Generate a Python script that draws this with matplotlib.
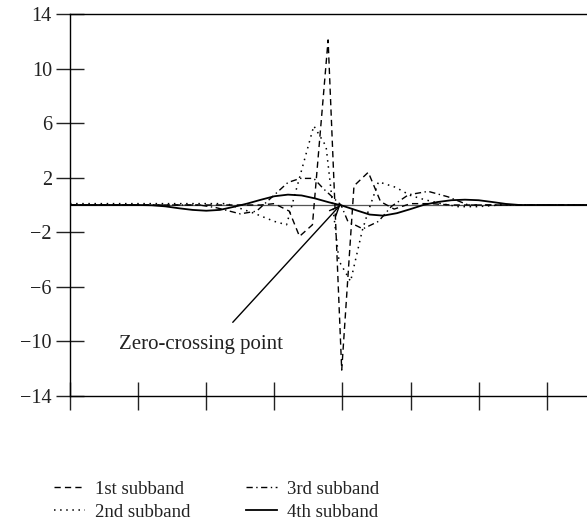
import matplotlib
matplotlib.use("Agg")
import matplotlib.pyplot as plt
from matplotlib.lines import Line2D

plt.rcParams['font.family'] = ['Liberation Serif', 'DejaVu Serif']

# ---- data (x in units of the x-axis tick spacing) ----
x_sub1 = [0, 2.8, 3.0, 3.22, 3.37, 3.56, 3.79, 3.99, 4.17, 4.38, 4.56, 4.76, 5.0, 5.3, 5.6, 7.6]
y_sub1 = [0, 0, 0.1, -0.45, -2.3, -1.45, 12.1, -12.1, 1.4, 2.4, 0.25, -0.3, 0.1, 0.1, 0, 0]

x_sub2 = [0, 2.3, 2.7, 3.0, 3.18, 3.58, 3.76, 3.95, 4.12, 4.29, 4.38, 4.53, 4.78, 5.0, 5.2, 5.45, 5.7, 6.0, 6.3, 7.6]
y_sub2 = [0.1, 0.1, -0.6, -1.2, -1.45, 5.8, 4.3, -4.1, -5.6, -1.9, -0.45, 1.7, 1.3, 0.7, 0.4, 0.1, -0.12, -0.12, 0, 0]

x_sub3 = [0, 1.9, 2.15, 2.5, 2.74, 2.97, 3.2, 3.38, 3.58, 3.72, 3.98, 4.08, 4.3, 4.53, 4.72, 4.97, 5.26, 5.55, 5.85, 7.6]
y_sub3 = [0, 0, -0.2, -0.65, -0.45, 0.6, 1.65, 1.95, 1.95, 1.2, 0, -1.2, -1.75, -1.2, -0.1, 0.75, 1.0, 0.6, 0, 0]

x_sub4 = [0, 1.0, 1.2, 1.4, 1.6, 1.8, 2.0, 2.2, 2.4, 2.6, 2.8, 3.0, 3.2, 3.4, 3.6, 3.8, 4.0,
          4.2, 4.4, 4.6, 4.8, 5.0, 5.2, 5.4, 5.6, 5.8, 6.0, 6.2, 6.4, 6.6, 7.6]
y_sub4 = [0, 0, -0.02, -0.1, -0.24, -0.36, -0.42, -0.36, -0.14, 0.1, 0.38, 0.64, 0.76, 0.7, 0.48, 0.2, -0.05,
          -0.38, -0.7, -0.78, -0.6, -0.3, 0.02, 0.22, 0.35, 0.39, 0.35, 0.22, 0.08, 0.0, 0]

labels = ["1st subband", "2nd subband", "3rd subband", "4th subband"]
y_ticks = [-14, -10, -6, -2, 2, 6, 10, 14]
x_ticks = [0, 1, 2, 3, 4, 5, 6, 7]
annot_text = "Zero-crossing point"
zero_point = (3.97, 0)

W, H = 587, 523
fig = plt.figure(figsize=(W / 100, H / 100), dpi=100)
left, right, top, bottom = 70, 587, 14, 396
ax = fig.add_axes([left / W, (H - bottom) / H, (right - left) / W, (bottom - top) / H])

styles = [
    dict(ls=(0, (4.5, 3)), lw=1.0),
    dict(ls=(0, (1, 3)), lw=1.1),
    dict(ls=(0, (4.5, 2.5, 1, 2.5)), lw=1.0),
    dict(ls='-', lw=1.3),
]

ax.axhline(0, color='#555555', lw=0.9, zorder=1)
series = [(x_sub1, y_sub1), (x_sub2, y_sub2), (x_sub3, y_sub3), (x_sub4, y_sub4)]
for (xs, ys), st, lab in zip(series, styles, labels):
    ax.plot(xs, ys, color='black', label=lab, zorder=2, **st)

ax.set_xlim(0, (right - left) / 68.1)
ax.set_ylim(-14, 14)
ax.set_yticks(y_ticks)
ax.set_xticks(x_ticks)
ax.set_xticklabels([])
ax.spines['right'].set_visible(False)
for s in ['left', 'bottom', 'top']:
    ax.spines[s].set_linewidth(1.0)
ax.tick_params(direction='inout', length=20, width=1.0, labelsize=14.5, pad=3, colors='#222222')

ax.annotate('', xy=zero_point, xytext=(2.39, -8.6),
            arrowprops=dict(arrowstyle='->,head_length=0.7,head_width=0.3', lw=1.0,
                            color='black', shrinkA=0, shrinkB=0))
ax.text(0.72, -10.25, annot_text, fontsize=15, ha='left', va='center', color='#222222')

handles = [Line2D([], [], color='black', **st) for st in styles]
fig.legend(handles, labels, ncol=2, loc='upper left', bbox_to_anchor=(45 / W, 1 - 471 / H),
           frameon=False, fontsize=13.5, handlelength=1.65, handletextpad=0.5,
           columnspacing=3.0, labelspacing=0.32, borderpad=0, labelcolor='#222222')

fig.savefig('out.png', dpi=100)
